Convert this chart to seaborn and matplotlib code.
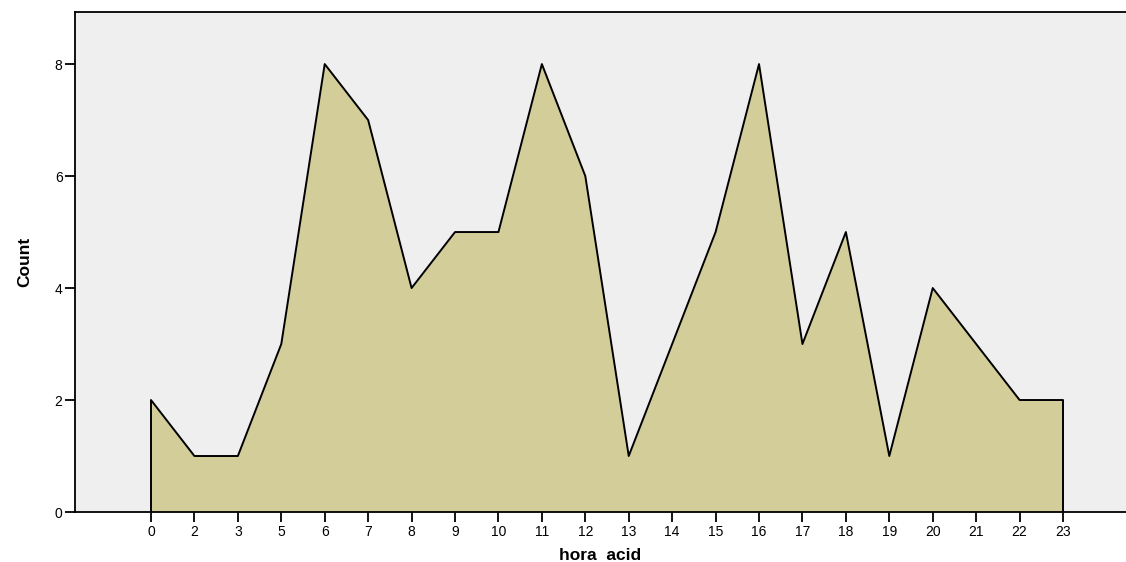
import pandas as pd
import numpy as np
import matplotlib.pyplot as plt
import seaborn as sns

hours = ["0", "2", "3", "5", "6", "7", "8", "9", "10", "11", "12",
         "13", "14", "15", "16", "17", "18", "19", "20", "21", "22", "23"]
counts = [2, 1, 1, 3, 8, 7, 4, 5, 5, 8, 6, 1, 3, 5, 8, 3, 5, 1, 4, 3, 2, 2]

df = pd.DataFrame({"hora": hours, "Count": counts})
df["pos"] = np.arange(len(df))

sns.set_style("ticks")
plt.rcParams['font.family'] = ['Liberation Sans', 'DejaVu Sans']
plt.rcParams['text.color'] = 'black'
plt.rcParams['axes.labelcolor'] = 'black'
plt.rcParams['xtick.color'] = 'black'
plt.rcParams['ytick.color'] = 'black'

fig = plt.figure(figsize=(11.26, 5.62), dpi=100)
ax = fig.add_axes([75/1126, 50/562, 1 - 75/1126, 500/562])
ax.set_facecolor("#efefef")

ax.fill_between(df["pos"], df["Count"], 0, color="#d3ce99", linewidth=0)
sns.lineplot(data=df, x="pos", y="Count", color="black", linewidth=1.4, ax=ax)
# closing edges of the area
ax.vlines([df["pos"].iloc[0], df["pos"].iloc[-1]], 0,
          [df["Count"].iloc[0], df["Count"].iloc[-1]], color="black", linewidth=1.4)

ax.set_xlim(-1.75, 22.45)
ax.set_ylim(0, 8.93)
ax.set_xticks(df["pos"])
ax.set_xticklabels(df["hora"], fontsize=10)
ax.set_yticks([0, 2, 4, 6, 8])
ax.set_yticklabels(["0", "2", "4", "6", "8"], fontsize=10)
ax.tick_params(axis="both", length=7, width=1.3, color="black", pad=2)

for s in ["left", "bottom", "top"]:
    ax.spines[s].set_color("black")
    ax.spines[s].set_linewidth(1.3)
ax.spines["right"].set_visible(False)

ax.set_xlabel("hora  acid", fontsize=12.5, fontweight="bold", labelpad=7)
ax.set_ylabel("Count", fontsize=12.5, fontweight="bold", labelpad=16)

fig.savefig("out.png", dpi=100)
